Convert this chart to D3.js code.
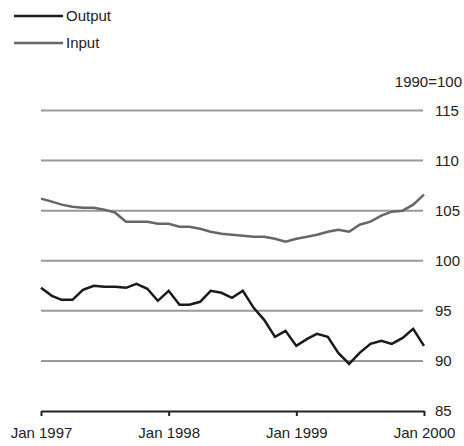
<!DOCTYPE html>
<html>
<head>
<meta charset="utf-8">
<script src="https://cdn.jsdelivr.net/npm/d3@7"></script>
<style>
  body { margin: 0; background: #fff; }
  text { font-family: "Liberation Sans", Arial, sans-serif; fill: #222; }
</style>
</head>
<body>
<script>
// monthly index values, Jan 1997 .. Jan 2000 (1990=100)
var output = [97.3, 96.5, 96.1, 96.1, 97.1, 97.5, 97.4, 97.4, 97.3, 97.7, 97.2, 96.0, 97.0,
              95.6, 95.6, 95.9, 97.0, 96.8, 96.3, 97.0, 95.3, 94.1, 92.4, 93.0, 91.5,
              92.2, 92.7, 92.4, 90.8, 89.7, 90.8, 91.7, 92.0, 91.7, 92.3, 93.2, 91.5];
var input = [106.2, 105.9, 105.6, 105.4, 105.3, 105.3, 105.1, 104.8, 103.9, 103.9, 103.9, 103.7, 103.7,
             103.4, 103.4, 103.2, 102.9, 102.7, 102.6, 102.5, 102.4, 102.4, 102.2, 101.9, 102.2,
             102.4, 102.6, 102.9, 103.1, 102.9, 103.6, 103.9, 104.5, 104.9, 105.0, 105.6, 106.6];
var yTicks = [85, 90, 95, 100, 105, 110, 115];
var xTicks = [new Date(1997, 0, 1), new Date(1998, 0, 1), new Date(1999, 0, 1), new Date(2000, 0, 1)];
var seriesNames = ['Output', 'Input'];

var width = 464, height = 446;
var fmt = d3.timeFormat('%b %Y');

var months = output.map(function(d, i) { return new Date(1997, i, 1); });

var svg = d3.select('body').append('svg')
            .attr('width', width)
            .attr('height', height);

var xScale = d3.scaleTime().domain([xTicks[0], xTicks[3]]).range([41, 424]);
var yScale = d3.scaleLinear().domain([85, 115]).range([411, 110.5]);

// grid lines
svg.append('g')
   .selectAll('line')
   .data(yTicks.slice(1))
   .enter()
   .append('line')
   .attr('x1', 41)
   .attr('x2', 423)
   .attr('y1', function(d) { return yScale(d); })
   .attr('y2', function(d) { return yScale(d); })
   .style('stroke', '#9a9a9a')
   .style('stroke-width', 2);

// right-side labels
svg.append('g')
   .selectAll('text')
   .data(yTicks)
   .enter()
   .append('text')
   .attr('x', 435)
   .attr('y', function(d) { return yScale(d); })
   .attr('dy', '0.35em')
   .style('font-size', '15px')
   .text(function(d) { return d; });

svg.append('text')
   .attr('x', 462)
   .attr('y', 82)
   .attr('dy', '0.35em')
   .attr('text-anchor', 'end')
   .style('font-size', '15px')
   .text('1990=100');

// x axis
var xAxis = d3.axisBottom(xScale)
              .tickValues(xTicks)
              .tickSize(5)
              .tickSizeOuter(0)
              .tickFormat(fmt);

var gx = svg.append('g')
   .attr('transform', 'translate(0,' + yScale(85) + ')')
   .call(xAxis);
gx.select('.domain').style('stroke', '#222').style('stroke-width', 2);
gx.selectAll('.tick line').style('stroke', '#222').style('stroke-width', 2);
gx.selectAll('.tick text')
  .attr('y', 16)
  .style('font-size', '15px')
  .style('font-family', '"Liberation Sans", Arial, sans-serif')
  .style('fill', '#222');

// lines
var line = d3.line()
             .x(function(d, i) { return xScale(months[i]); })
             .y(function(d) { return yScale(d); });

svg.append('path')
   .datum(input)
   .attr('d', line)
   .style('fill', 'none')
   .style('stroke', '#666')
   .style('stroke-width', 2.5);

svg.append('path')
   .datum(output)
   .attr('d', line)
   .style('fill', 'none')
   .style('stroke', '#1a1a1a')
   .style('stroke-width', 2.5);

// legend
var legendColors = ['#1a1a1a', '#666'];
var legend = svg.append('g')
   .selectAll('g')
   .data(seriesNames)
   .enter()
   .append('g')
   .attr('transform', function(d, i) { return 'translate(0,' + (16 + i * 27) + ')'; });

legend.append('line')
      .attr('x1', 14)
      .attr('x2', 63)
      .style('stroke', function(d, i) { return legendColors[i]; })
      .style('stroke-width', 2.5);

legend.append('text')
      .attr('x', 66)
      .attr('dy', '0.35em')
      .style('font-size', '15px')
      .text(function(d) { return d; });
</script>
</body>
</html>
